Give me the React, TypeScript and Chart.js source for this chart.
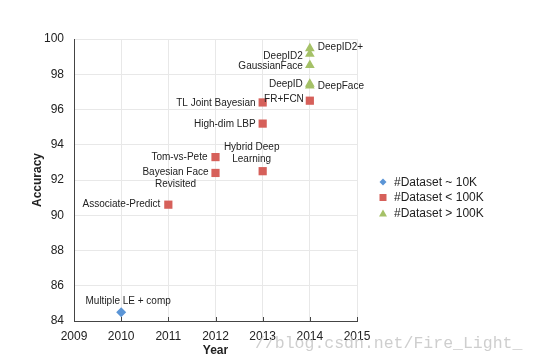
import React, { useEffect, useRef } from 'react';
import { Chart, registerables } from 'chart.js';

Chart.register(...registerables);

// ---- data ----
const seriesNames = ['#Dataset ~ 10K', '#Dataset < 100K', '#Dataset > 100K'];

const smallNames = ['Multiple LE + comp'];
const smallYears = [2010];
const smallAcc = [84.5];

const mediumNames = ['Associate-Predict', 'Tom-vs-Pete', 'Bayesian Face\nRevisited', 'Hybrid Deep\nLearning', 'High-dim LBP', 'TL Joint Bayesian', 'FR+FCN'];
const mediumYears = [2011, 2012, 2012, 2013, 2013, 2013, 2014];
const mediumAcc = [90.6, 93.3, 92.4, 92.5, 95.2, 96.4, 96.5];

const largeNames = ['DeepFace', 'DeepID', 'GaussianFace', 'DeepID2', 'DeepID2+'];
const largeYears = [2014, 2014, 2014, 2014, 2014];
const largeAcc = [97.35, 97.45, 98.52, 99.15, 99.47];

const xTickMin = 2009;
const xTickMax = 2015;
const yTickMin = 84;
const yTickMax = 100;

const xTitle = 'Year';
const yTitle = 'Accuracy';
const watermark = '//blog.csdn.net/Fire_Light_';

// ---- styles ----
const colors = ['#5b95d6', '#d6605a', '#a5c167'];
const pointStyles = ['rectRot', 'rect', 'triangle'];
const pointRadii = [5, 5.8, 5.6];

// label placement (align, dx, dy) per point
const smallPlace = [{ a: 'center', dx: 7, dy: -11 }];
const mediumPlace = [
  { a: 'right', dx: -8, dy: 0 },
  { a: 'right', dx: -8, dy: 0 },
  { a: 'center', dx: -40, dy: -1 },
  { a: 'center', dx: -11, dy: -24 },
  { a: 'right', dx: -7, dy: 1 },
  { a: 'right', dx: -7, dy: 1 },
  { a: 'right', dx: -6, dy: -1 },
];
const largePlace = [
  { a: 'left', dx: 8, dy: 1 },
  { a: 'right', dx: -7, dy: 0 },
  { a: 'right', dx: -7, dy: 1 },
  { a: 'right', dx: -7, dy: 2 },
  { a: 'left', dx: 8, dy: -1 },
];

const FONT = '"Liberation Sans", Arial, Helvetica, sans-serif';

function toPoints(years: number[], acc: number[]) {
  return years.map((y, i) => ({ x: y, y: acc[i] }));
}

const labelPlugin = {
  id: 'pointLabels',
  afterDatasetsDraw(chart: any) {
    const ctx = chart.ctx;
    const names = [smallNames, mediumNames, largeNames];
    const places = [smallPlace, mediumPlace, largePlace];
    ctx.save();
    ctx.font = `10px ${FONT}`;
    ctx.fillStyle = '#222';
    ctx.textBaseline = 'middle';
    chart.data.datasets.forEach((ds: any, di: number) => {
      const meta = chart.getDatasetMeta(di);
      meta.data.forEach((el: any, i: number) => {
        const p = places[di][i];
        const lines = names[di][i].split('\n');
        ctx.textAlign = p.a;
        lines.forEach((ln: string, li: number) => {
          ctx.fillText(ln, el.x + p.dx, el.y + p.dy + li * 12.5);
        });
      });
    });
    ctx.restore();
  },
};

const decorPlugin = {
  id: 'decor',
  afterDraw(chart: any) {
    const ctx = chart.ctx;
    const area = chart.chartArea;
    const xs = chart.scales.x;
    ctx.save();
    // inner ticks on x axis
    ctx.strokeStyle = '#444';
    ctx.lineWidth = 1;
    for (let v = xTickMin; v <= xTickMax; v++) {
      const px = Math.round(xs.getPixelForValue(v)) + 0.5;
      ctx.beginPath();
      ctx.moveTo(px, area.bottom);
      ctx.lineTo(px, area.bottom - 4);
      ctx.stroke();
    }
    // axis titles
    ctx.fillStyle = '#222';
    ctx.font = `bold 12px ${FONT}`;
    ctx.textAlign = 'center';
    ctx.textBaseline = 'middle';
    ctx.fillText(xTitle, (area.left + area.right) / 2, 351);
    ctx.save();
    ctx.translate(38, (area.top + area.bottom) / 2);
    ctx.rotate(-Math.PI / 2);
    ctx.fillText(yTitle, 0, 0);
    ctx.restore();
    // legend
    const lx = 383;
    const ly = [182, 197.5, 213];
    ctx.font = `12px ${FONT}`;
    ctx.textAlign = 'left';
    chart.data.datasets.forEach((ds: any, di: number) => {
      ctx.fillStyle = colors[di];
      const y = ly[di];
      ctx.beginPath();
      if (di === 0) {
        ctx.moveTo(lx, y - 3.5);
        ctx.lineTo(lx + 3.5, y);
        ctx.lineTo(lx, y + 3.5);
        ctx.lineTo(lx - 3.5, y);
      } else if (di === 1) {
        ctx.rect(lx - 3.5, y - 3.5, 7, 7);
      } else {
        ctx.moveTo(lx, y - 3.5);
        ctx.lineTo(lx + 4, y + 3.5);
        ctx.lineTo(lx - 4, y + 3.5);
      }
      ctx.closePath();
      ctx.fill();
      ctx.fillStyle = '#222';
      ctx.fillText(ds.label, lx + 11, y + 0.5);
    });
    // watermark
    ctx.font = `16.5px "Liberation Mono", "DejaVu Sans Mono", monospace`;
    ctx.fillStyle = 'rgba(190,190,190,0.75)';
    ctx.textAlign = 'left';
    ctx.fillText(watermark, 255, 344);
    ctx.restore();
  },
};

export default function App() {
  const ref = useRef<HTMLCanvasElement | null>(null);
  useEffect(() => {
    document.body.style.margin = '0';
    const canvas = ref.current;
    if (!canvas) return;
    const data = [
      toPoints(smallYears, smallAcc),
      toPoints(mediumYears, mediumAcc),
      toPoints(largeYears, largeAcc),
    ];
    const chart = new Chart(canvas, {
      type: 'scatter',
      data: {
        datasets: data.map((d, i) => ({
          label: seriesNames[i],
          data: d,
          pointStyle: pointStyles[i] as any,
          pointRadius: pointRadii[i],
          pointHoverRadius: pointRadii[i],
          backgroundColor: colors[i],
          borderColor: colors[i],
          borderWidth: 0,
        })),
      },
      options: {
        animation: false,
        responsive: false,
        maintainAspectRatio: false,
        layout: { padding: { left: 0, right: 179, top: 39, bottom: 0 } },
        plugins: { legend: { display: false }, tooltip: { enabled: false } },
        scales: {
          x: {
            type: 'linear',
            min: xTickMin,
            max: xTickMax,
            afterFit: (s: any) => { s.height = 43; },
            ticks: {
              stepSize: 1,
              padding: 8,
              color: '#222',
              font: { size: 12, family: FONT },
              callback: (v: any) => String(v),
            },
            grid: { color: '#e8e8e8', drawTicks: false, lineWidth: 1 },
            border: { color: '#444', width: 1 },
          },
          y: {
            type: 'linear',
            min: yTickMin,
            max: yTickMax,
            afterFit: (s: any) => { s.width = 74; },
            ticks: {
              stepSize: 2,
              padding: 10,
              color: '#222',
              font: { size: 12, family: FONT },
            },
            grid: { color: '#e8e8e8', drawTicks: false, lineWidth: 1 },
            border: { color: '#444', width: 1 },
          },
        },
      },
      plugins: [labelPlugin, decorPlugin],
    });
    return () => chart.destroy();
  }, []);
  return (
    <div style={{ width: 536, height: 364 }}>
      <canvas ref={ref} width={536} height={364} style={{ display: 'block' }} />
    </div>
  );
}
